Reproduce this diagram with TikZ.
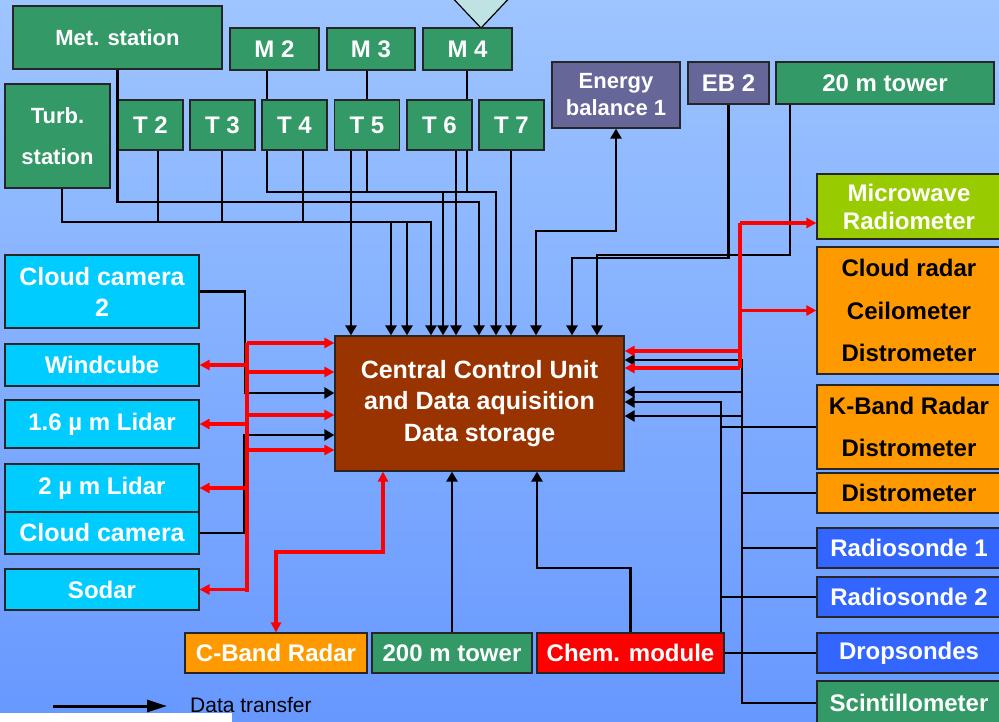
\documentclass[tikz,border=0pt]{standalone}
\usepackage{fontspec}
\setmainfont{Liberation Sans}
\usetikzlibrary{arrows.meta}
\definecolor{bgtop}{HTML}{9EC5FF}
\definecolor{bgbot}{HTML}{6798FF}
\definecolor{tgreen}{HTML}{339966}
\definecolor{tpurple}{HTML}{666699}
\definecolor{tcyan}{HTML}{00CCFF}
\definecolor{torange}{HTML}{FF9900}
\definecolor{tblue}{HTML}{3366FF}
\definecolor{tlime}{HTML}{99CC00}
\definecolor{tbrown}{HTML}{993300}
\definecolor{tred}{HTML}{FF0000}
\definecolor{tricyan}{HTML}{BFE3E3}

\begin{document}
\begin{tikzpicture}[x=1pt, y=-1pt,
    box/.style={draw=black!85, line width=1.2pt, inner sep=0pt, align=center, text=white, font=\bfseries\fontsize{24}{29}\selectfont},
    dims/.style 2 args={minimum width=#1pt, minimum height=#2pt},
    greenbox/.style={box, fill=tgreen},
    purplebox/.style={box, fill=tpurple},
    cyanbox/.style={box, fill=tcyan},
    orangebox/.style={box, fill=torange},
    bluebox/.style={box, fill=tblue},
    limebox/.style={box, fill=tlime},
    link/.style={line width=2.4pt, black},
    arrow/.style={link, -{Triangle[length=10pt, width=11pt]}},
    arrowboth/.style={link, {Triangle[length=10pt, width=11pt]}-{Triangle[length=10pt, width=11pt]}},
    redlink/.style={line width=3.2pt, tred},
    redarrow/.style={redlink, -{Triangle[length=10pt, width=10pt]}},
    redboth/.style={redlink, {Triangle[length=10pt, width=10pt]}-{Triangle[length=10pt, width=10pt]}}
  ]
    \useasboundingbox (0,0) rectangle (999,721);
    \shade[top color=bgtop, bottom color=bgbot] (0,0) rectangle (999,721);
    \fill[white] (0,713) rectangle (232,725);
    \filldraw[fill=tricyan, draw=black, line width=1.2pt] (447,-8) -- (481,28) -- (515,-8) -- cycle;

    % stations at the top
    \node (met) [greenbox, dims={209}{63}, font=\bfseries\fontsize{22}{27}\selectfont] at (117.5,37.5) {Met. station};
    \node (m2) [greenbox, dims={89}{42}] at (274.5,49) {M 2};
    \node (m3) [greenbox, dims={88}{42}] at (371,49) {M 3};
    \node (m4) [greenbox, dims={89}{42}] at (467.5,49) {M 4};
    \node (turb) [greenbox, dims={105}{104}, font=\bfseries\fontsize{22}{41}\selectfont] at (57.5,136) {Turb.\\station};
    \node (t2) [greenbox, dims={65}{50}] at (150.5,125) {T 2};
    \node (t3) [greenbox, dims={65}{50}] at (222.5,125) {T 3};
    \node (t4) [greenbox, dims={65}{50}] at (294.5,125) {T 4};
    \node (t5) [greenbox, dims={65}{50}] at (367,125) {T 5};
    \node (t6) [greenbox, dims={65}{50}] at (439.5,125) {T 6};
    \node (t7) [greenbox, dims={65}{50}] at (511.5,125) {T 7};
    \node (eb1) [purplebox, dims={128}{66}, font=\bfseries\fontsize{22}{27}\selectfont] at (616,95) {Energy\\balance 1};
    \node (eb2) [purplebox, dims={81}{42}] at (728.5,83) {EB 2};
    \node (tw20) [greenbox, dims={218}{42}] at (885,83) {20 m tower};

    % instruments on the right
    \node (mwr) [limebox, dims={184}{65}, font=\bfseries\fontsize{24}{28}\selectfont] at (909,206.5) {Microwave\\Radiometer};
    \node (crad) [orangebox, text=black, dims={184}{127}, font=\bfseries\fontsize{24}{42.5}\selectfont] at (909,310.5) {Cloud radar\\Ceilometer\\Distrometer};
    \node (kband) [orangebox, text=black, dims={184}{84}, font=\bfseries\fontsize{24}{42}\selectfont] at (909,427) {K-Band Radar\\Distrometer};
    \node (dist) [orangebox, text=black, dims={184}{40}] at (909,493) {Distrometer};
    \node (rs1) [bluebox, dims={184}{40}] at (909,548) {Radiosonde 1};
    \node (rs2) [bluebox, dims={184}{40}] at (909,597) {Radiosonde 2};
    \node (drop) [bluebox, dims={184}{40}] at (909,653) {Dropsondes};
    \node (scint) [greenbox, dims={184}{44}] at (909,703) {Scintillometer};

    % instruments on the left
    \node (cc2) [cyanbox, dims={194}{73}, font=\bfseries\fontsize{25}{31}\selectfont] at (102,291.5) {Cloud camera\\2};
    \node (wind) [cyanbox, dims={194}{42}] at (102,365) {Windcube};
    \node (lid16) [cyanbox, dims={194}{48}] at (102,424) {1.6 µ m Lidar};
    \node (lid2) [cyanbox, dims={194}{48}] at (102,488) {2 µ m Lidar};
    \node (ccam) [cyanbox, dims={194}{42}, font=\bfseries\fontsize{25}{29}\selectfont] at (102,533) {Cloud camera};
    \node (sodar) [cyanbox, dims={194}{41}] at (102,589.5) {Sodar};

    % centre and bottom row
    \node (ccu) [box, fill=tbrown, dims={289}{135}, font=\bfseries\fontsize{25}{31.5}\selectfont] at (479.5,403.5) {Central Control Unit\\and Data aquisition\\Data storage};
    \node (cband) [orangebox, dims={182}{40}] at (276,653) {C-Band Radar};
    \node (tw200) [greenbox, dims={160}{40}] at (452,653) {200 m tower};
    \node (chem) [box, fill=tred, dims={187}{40}] at (630.5,653) {Chem. module};

    % legend
    \coordinate (legstart) at (53,706);
    \coordinate (legtip) at (167,706);
    \node (legtext) [anchor=west, inner sep=0pt, font=\fontsize{21}{25}\selectfont] at (190,705) {Data transfer};
    \draw[line width=3pt, -{Triangle[length=20pt, width=12pt]}] (legstart) -- (legtip);

    % top connections
    \draw[link] (m2.south -| 267,0) -- (t4.north -| 267,0);
    \draw[link] (m3.south -| t5.north) -- (t5.north);
    \draw[link] (m4.south -| 467,0) -- (t6.north -| 467,0);
    \draw[arrow] (met.south -| t2.west) |- (479,202) -- (ccu.north -| 479,0);
    \draw[arrow] (turb.south -| 62,0) |- (431,222) -- (ccu.north -| 431,0);
    \draw[link] (t2.south -| 158,0) -- (158,222);
    \draw[link] (t3.south -| 222,0) -- (222,222);
    \draw[link] (t4.south -| 303,0) -- (303,222);
    \draw[arrow] (391,222) -- (ccu.north -| 391,0);
    \draw[arrow] (407,222) -- (ccu.north -| 407,0);
    \draw[arrow] (t4.south -| 267,0) |- (496,192) -- (ccu.north -| 496,0);
    \draw[link] (t5.south) -- (t5.south |- 0,192);
    \draw[link] (t6.south -| 467,0) -- (467,192);
    \draw[arrow] (443,192) -- (ccu.north -| 443,0);
    \draw[arrow] (t5.south -| 351,0) -- (ccu.north -| 351,0);
    \draw[arrow] (t6.south -| 456,0) -- (ccu.north -| 456,0);
    \draw[arrow] (t7.south -| 511,0) -- (ccu.north -| 511,0);
    \draw[arrowboth] (ccu.north -| 536,0) |- (616,231) -- (eb1.south);
    \draw[arrow] (eb2.south) |- (572,258) -- (ccu.north -| 572,0);
    \draw[arrow] (tw20.south -| 790,0) |- (597,255) -- (ccu.north -| 597,0);

    % right connections
    \draw[arrow] (scint.west) -| (742,360) -- (ccu.east |- 0,360);
    \draw[arrow] (742,392) -- (ccu.east |- 0,392);
    \draw[arrow] (742,416) -- (ccu.east |- 0,416);
    \draw[link] (dist.west) -- (dist.west -| 742,0);
    \draw[link] (rs1.west) -- (rs1.west -| 742,0);
    \draw[link] (chem.east) -- (drop.west);
    \draw[arrow] (chem.north -| 721,0) |- (ccu.east |- 0,402);
    \draw[link] (kband.west) -- (kband.west -| 721,0);
    \draw[link] (rs2.west) -- (rs2.west -| 721,0);
    \draw[redlink] (740,223) -- (740,368);
    \draw[redarrow] (740,223) -- (mwr.west |- 0,223);
    \draw[redarrow] (crad.west -| 740,0) -- (crad.west);
    \draw[redarrow] (740,351) -- (ccu.east |- 0,351);
    \draw[redarrow] (740,368) -- (ccu.east |- 0,368);

    % left connections
    \draw[arrow] (cc2.east) -| (245,393) -- (ccu.west |- 0,393);
    \draw[arrow] (ccam.east) -| (244,435) -- (ccu.west |- 0,435);
    \draw[redlink] (247,343) -- (247,592);
    \draw[redarrow] (247,343) -- (ccu.west |- 0,343);
    \draw[redarrow] (247,372) -- (ccu.west |- 0,372);
    \draw[redarrow] (247,415) -- (ccu.west |- 0,415);
    \draw[redarrow] (247,450) -- (ccu.west |- 0,450);
    \draw[redarrow] (wind.east -| 247,0) -- (wind.east);
    \draw[redarrow] (lid16.east -| 247,0) -- (lid16.east);
    \draw[redarrow] (lid2.east -| 247,0) -- (lid2.east);
    \draw[redarrow] (sodar.east -| 247,0) -- (sodar.east);

    % bottom connections
    \draw[arrow] (tw200.north) -- (ccu.south -| tw200.north);
    \draw[arrow] (chem.north) |- (537,568) -- (ccu.south -| 537,0);
    \draw[redboth] (cband.north) |- (383,552) -- (ccu.south -| 383,0);
\end{tikzpicture}
\end{document}
